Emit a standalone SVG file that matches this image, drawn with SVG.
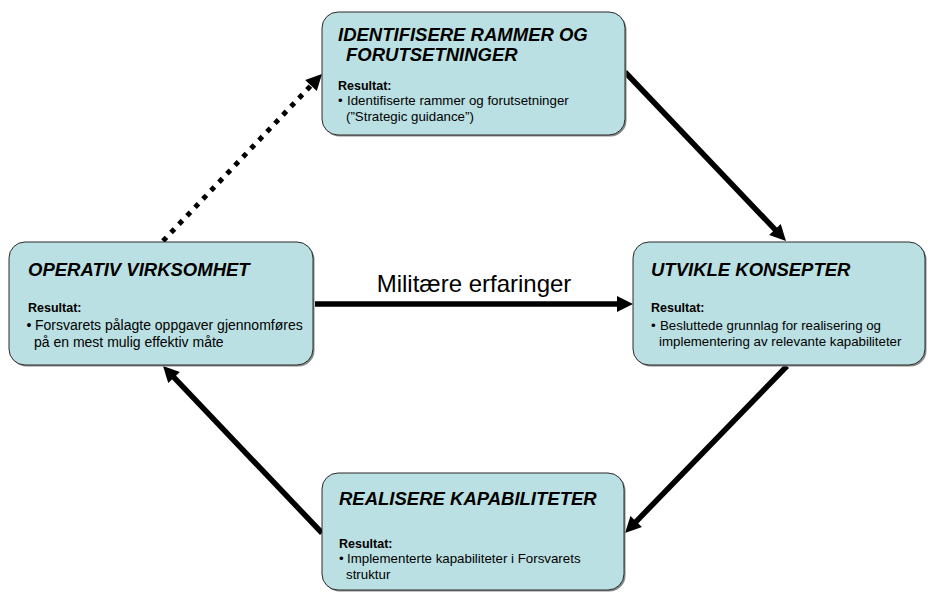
<svg xmlns="http://www.w3.org/2000/svg" width="928" height="592" viewBox="0 0 928 592">
  <defs>
    <style>
      .box { fill: #BBE0E3; stroke: #2a2a2a; stroke-width: 1; }
      .shadow { fill: #8a8a8a; }
      .title { font-family: "Liberation Sans", Arial, sans-serif; font-size: 18.5px; font-weight: bold; font-style: italic; fill: #000; }
      .head { font-family: "Liberation Sans", Arial, sans-serif; font-size: 12.5px; font-weight: bold; fill: #000; }
      .body { font-family: "Liberation Sans", Arial, sans-serif; font-size: 13.3px; fill: #000; }
      .body-l { font-size: 14px; }
      .label { font-family: "Liberation Sans", Arial, sans-serif; font-size: 24px; fill: #000; }
      .flow { fill: none; stroke: #000; stroke-width: 5.5; marker-end: url(#head); }
      .dotted { fill: none; stroke: #000; stroke-width: 5; stroke-dasharray: 5 6.6; marker-end: url(#head); }
    </style>
    <marker id="head" markerUnits="userSpaceOnUse" markerWidth="18" markerHeight="18" refX="6" refY="8" orient="auto" overflow="visible">
      <path d="M0,0 L16,8 L0,16 z" fill="#000"/>
    </marker>
  </defs>

  <!-- connectors -->
  <g id="connectors">
    <path class="dotted" d="M163,241 L315.1,81.2"/>
    <path class="flow" d="M625,72 L779.1,233.8"/>
    <path class="flow" d="M787,366 L632,525.8"/>
    <path class="flow" d="M322,533 L169.9,373.2"/>
    <path class="flow" d="M315,304 L623,304"/>
    <text class="label" x="474" y="292" text-anchor="middle">Militære erfaringer</text>
  </g>

  <!-- top node -->
  <g id="identifisere">
    <rect class="shadow" x="323.5" y="13.5" width="303" height="123" rx="16"/>
    <rect class="box" x="322" y="12" width="303" height="123" rx="16"/>
    <text class="title" x="338" y="41">IDENTIFISERE RAMMER OG</text>
    <text class="title" x="346" y="61">FORUTSETNINGER</text>
    <text class="head" x="338" y="90">Resultat:</text>
    <text class="body" x="338" y="105">•</text>
    <text class="body" x="347" y="105">Identifiserte rammer og forutsetninger</text>
    <text class="body" x="346" y="121">(”Strategic guidance”)</text>
  </g>

  <!-- left node -->
  <g id="operativ">
    <rect class="shadow" x="10.5" y="243.5" width="304" height="123" rx="16"/>
    <rect class="box" x="9" y="242" width="304" height="123" rx="16"/>
    <text class="title" x="28" y="276">OPERATIV VIRKSOMHET</text>
    <text class="head" x="28" y="312">Resultat:</text>
    <text class="body body-l" x="26.5" y="330">•</text>
    <text class="body body-l" x="35" y="330">Forsvarets pålagte oppgaver gjennomføres</text>
    <text class="body body-l" x="34" y="347">på en mest mulig effektiv måte</text>
  </g>

  <!-- right node -->
  <g id="utvikle">
    <rect class="shadow" x="634.5" y="243.5" width="292" height="123" rx="16"/>
    <rect class="box" x="633" y="242" width="292" height="123" rx="16"/>
    <text class="title" x="651" y="276">UTVIKLE KONSEPTER</text>
    <text class="head" x="651" y="312">Resultat:</text>
    <text class="body" x="651" y="330">•</text>
    <text class="body" x="660" y="330">Besluttede grunnlag for realisering og</text>
    <text class="body" x="659" y="346">implementering av relevante kapabiliteter</text>
  </g>

  <!-- bottom node -->
  <g id="realisere">
    <rect class="shadow" x="323.5" y="474.5" width="302" height="117" rx="16"/>
    <rect class="box" x="322" y="473" width="302" height="117" rx="16"/>
    <text class="title" x="339" y="505">REALISERE KAPABILITETER</text>
    <text class="head" x="339" y="548">Resultat:</text>
    <text class="body" x="339" y="563">•</text>
    <text class="body" x="347" y="563">Implementerte kapabiliteter i Forsvarets</text>
    <text class="body" x="346" y="579">struktur</text>
  </g>
</svg>
